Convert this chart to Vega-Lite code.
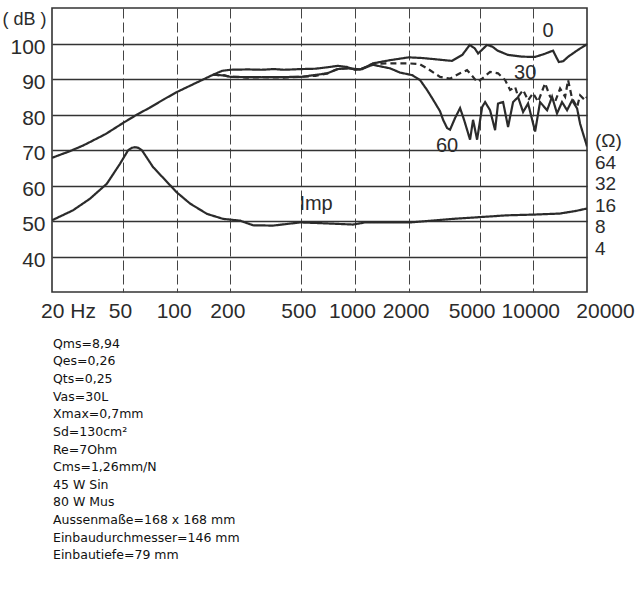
{
  "$schema": "https://vega.github.io/schema/vega-lite/v6.json",
  "width": 535,
  "height": 284,
  "autosize": {"type": "none"},
  "padding": {"left": 52, "top": 8, "right": 53, "bottom": 305},
  "background": "white",
  "config": {
    "view": {"stroke": "#333333", "strokeWidth": 1.6},
    "text": {"font": "Liberation Sans", "color": "#2b2b2b"}
  },
  "datasets": {
    "curves": [
      {"curve": "0", "freq": 20, "db": 67.8}, {"curve": "0", "freq": 25, "db": 69.6}, {"curve": "0", "freq": 30, "db": 71.3},
      {"curve": "0", "freq": 40, "db": 74.5}, {"curve": "0", "freq": 50, "db": 77.6}, {"curve": "0", "freq": 60, "db": 80.0},
      {"curve": "0", "freq": 70, "db": 81.8}, {"curve": "0", "freq": 85, "db": 84.3}, {"curve": "0", "freq": 100, "db": 86.3},
      {"curve": "0", "freq": 120, "db": 88.2}, {"curve": "0", "freq": 140, "db": 89.8}, {"curve": "0", "freq": 160, "db": 91.2},
      {"curve": "0", "freq": 180, "db": 92.3}, {"curve": "0", "freq": 200, "db": 92.6}, {"curve": "0", "freq": 250, "db": 92.7},
      {"curve": "0", "freq": 300, "db": 92.6}, {"curve": "0", "freq": 350, "db": 92.8}, {"curve": "0", "freq": 400, "db": 92.6},
      {"curve": "0", "freq": 450, "db": 92.7}, {"curve": "0", "freq": 500, "db": 92.8}, {"curve": "0", "freq": 600, "db": 92.9},
      {"curve": "0", "freq": 700, "db": 93.3}, {"curve": "0", "freq": 800, "db": 93.7}, {"curve": "0", "freq": 900, "db": 93.4},
      {"curve": "0", "freq": 1000, "db": 92.6}, {"curve": "0", "freq": 1100, "db": 92.8}, {"curve": "0", "freq": 1260, "db": 94.4},
      {"curve": "0", "freq": 1570, "db": 95.3}, {"curve": "0", "freq": 2000, "db": 96.1}, {"curve": "0", "freq": 2400, "db": 95.9},
      {"curve": "0", "freq": 2900, "db": 95.5}, {"curve": "0", "freq": 3500, "db": 95.1}, {"curve": "0", "freq": 4000, "db": 96.8},
      {"curve": "0", "freq": 4400, "db": 99.6}, {"curve": "0", "freq": 4700, "db": 98.6}, {"curve": "0", "freq": 4900, "db": 97.2},
      {"curve": "0", "freq": 5150, "db": 98.2}, {"curve": "0", "freq": 5500, "db": 99.6}, {"curve": "0", "freq": 5900, "db": 99.1},
      {"curve": "0", "freq": 6300, "db": 98.0}, {"curve": "0", "freq": 7200, "db": 96.8}, {"curve": "0", "freq": 8600, "db": 96.3},
      {"curve": "0", "freq": 10200, "db": 96.2}, {"curve": "0", "freq": 11600, "db": 97.1}, {"curve": "0", "freq": 12900, "db": 98.0},
      {"curve": "0", "freq": 13500, "db": 96.0}, {"curve": "0", "freq": 13900, "db": 94.8}, {"curve": "0", "freq": 14700, "db": 95.0},
      {"curve": "0", "freq": 15700, "db": 96.3}, {"curve": "0", "freq": 17800, "db": 98.2}, {"curve": "0", "freq": 20000, "db": 99.8},

      {"curve": "30", "freq": 160, "db": 91.2}, {"curve": "30", "freq": 185, "db": 91.0}, {"curve": "30", "freq": 200, "db": 90.6},
      {"curve": "30", "freq": 250, "db": 90.4}, {"curve": "30", "freq": 300, "db": 90.5}, {"curve": "30", "freq": 400, "db": 90.4},
      {"curve": "30", "freq": 500, "db": 90.6}, {"curve": "30", "freq": 600, "db": 90.9}, {"curve": "30", "freq": 700, "db": 91.6},
      {"curve": "30", "freq": 800, "db": 92.8}, {"curve": "30", "freq": 900, "db": 93.0}, {"curve": "30", "freq": 1070, "db": 92.7},
      {"curve": "30", "freq": 1260, "db": 94.3}, {"curve": "30", "freq": 1570, "db": 94.4}, {"curve": "30", "freq": 2000, "db": 94.4},
      {"curve": "30", "freq": 2300, "db": 94.2}, {"curve": "30", "freq": 2540, "db": 93.0}, {"curve": "30", "freq": 3000, "db": 90.6},
      {"curve": "30", "freq": 3410, "db": 90.1}, {"curve": "30", "freq": 3880, "db": 91.6}, {"curve": "30", "freq": 4250, "db": 92.5},
      {"curve": "30", "freq": 4420, "db": 91.6}, {"curve": "30", "freq": 4840, "db": 89.2}, {"curve": "30", "freq": 5165, "db": 90.1},
      {"curve": "30", "freq": 5720, "db": 92.0}, {"curve": "30", "freq": 6340, "db": 91.6}, {"curve": "30", "freq": 6950, "db": 89.7},
      {"curve": "30", "freq": 7410, "db": 86.9}, {"curve": "30", "freq": 7900, "db": 87.8}, {"curve": "30", "freq": 8220, "db": 85.0},
      {"curve": "30", "freq": 8760, "db": 86.9}, {"curve": "30", "freq": 9350, "db": 84.0}, {"curve": "30", "freq": 9970, "db": 86.0},
      {"curve": "30", "freq": 10640, "db": 83.6}, {"curve": "30", "freq": 11640, "db": 88.8}, {"curve": "30", "freq": 12420, "db": 85.0},
      {"curve": "30", "freq": 13250, "db": 83.6}, {"curve": "30", "freq": 14130, "db": 87.3}, {"curve": "30", "freq": 15080, "db": 85.0},
      {"curve": "30", "freq": 15670, "db": 89.7}, {"curve": "30", "freq": 16500, "db": 84.5}, {"curve": "30", "freq": 17600, "db": 82.1},
      {"curve": "30", "freq": 18300, "db": 85.4}, {"curve": "30", "freq": 19510, "db": 84.0}, {"curve": "30", "freq": 20000, "db": 85.0},

      {"curve": "60", "freq": 160, "db": 91.2}, {"curve": "60", "freq": 185, "db": 91.0}, {"curve": "60", "freq": 200, "db": 90.6},
      {"curve": "60", "freq": 300, "db": 90.5}, {"curve": "60", "freq": 500, "db": 90.6}, {"curve": "60", "freq": 700, "db": 91.6},
      {"curve": "60", "freq": 800, "db": 92.8}, {"curve": "60", "freq": 900, "db": 93.0}, {"curve": "60", "freq": 1070, "db": 92.7},
      {"curve": "60", "freq": 1260, "db": 94.0}, {"curve": "60", "freq": 1574, "db": 93.0}, {"curve": "60", "freq": 1790, "db": 91.8},
      {"curve": "60", "freq": 2090, "db": 91.1}, {"curve": "60", "freq": 2318, "db": 89.7}, {"curve": "60", "freq": 2536, "db": 86.9},
      {"curve": "60", "freq": 2740, "db": 84.2}, {"curve": "60", "freq": 3000, "db": 80.9}, {"curve": "60", "freq": 3120, "db": 78.5},
      {"curve": "60", "freq": 3284, "db": 76.2}, {"curve": "60", "freq": 3412, "db": 75.7}, {"curve": "60", "freq": 3640, "db": 79.0},
      {"curve": "60", "freq": 3884, "db": 81.8}, {"curve": "60", "freq": 4090, "db": 78.5}, {"curve": "60", "freq": 4252, "db": 75.7},
      {"curve": "60", "freq": 4418, "db": 72.9}, {"curve": "60", "freq": 4594, "db": 78.5}, {"curve": "60", "freq": 4838, "db": 72.9},
      {"curve": "60", "freq": 5165, "db": 82.1}, {"curve": "60", "freq": 5366, "db": 83.5}, {"curve": "60", "freq": 5722, "db": 81.2},
      {"curve": "60", "freq": 6104, "db": 75.6}, {"curve": "60", "freq": 6340, "db": 83.1}, {"curve": "60", "freq": 6768, "db": 83.5},
      {"curve": "60", "freq": 7218, "db": 76.5}, {"curve": "60", "freq": 7702, "db": 83.5}, {"curve": "60", "freq": 8216, "db": 84.9},
      {"curve": "60", "freq": 8762, "db": 80.7}, {"curve": "60", "freq": 9348, "db": 83.1}, {"curve": "60", "freq": 10234, "db": 75.2},
      {"curve": "60", "freq": 10910, "db": 83.5}, {"curve": "60", "freq": 11950, "db": 81.2}, {"curve": "60", "freq": 12740, "db": 85.0},
      {"curve": "60", "freq": 13580, "db": 80.3}, {"curve": "60", "freq": 14490, "db": 83.5}, {"curve": "60", "freq": 15460, "db": 81.2},
      {"curve": "60", "freq": 16500, "db": 84.0}, {"curve": "60", "freq": 17600, "db": 81.7}, {"curve": "60", "freq": 18300, "db": 77.4},
      {"curve": "60", "freq": 19020, "db": 74.6}, {"curve": "60", "freq": 19760, "db": 71.9}, {"curve": "60", "freq": 20000, "db": 71.0},

      {"curve": "Imp", "freq": 20, "db": 50.2}, {"curve": "Imp", "freq": 26.2, "db": 53.0}, {"curve": "Imp", "freq": 32.7, "db": 56.3},
      {"curve": "Imp", "freq": 40.6, "db": 60.5}, {"curve": "Imp", "freq": 48.1, "db": 66.1}, {"curve": "Imp", "freq": 53.4, "db": 69.9},
      {"curve": "Imp", "freq": 56, "db": 70.6}, {"curve": "Imp", "freq": 58.4, "db": 70.8}, {"curve": "Imp", "freq": 61, "db": 70.6},
      {"curve": "Imp", "freq": 63.9, "db": 69.9}, {"curve": "Imp", "freq": 73.7, "db": 65.2}, {"curve": "Imp", "freq": 88.3, "db": 61.0},
      {"curve": "Imp", "freq": 100, "db": 58.1}, {"curve": "Imp", "freq": 119, "db": 54.9}, {"curve": "Imp", "freq": 148, "db": 52.0},
      {"curve": "Imp", "freq": 182, "db": 50.6}, {"curve": "Imp", "freq": 227, "db": 50.1}, {"curve": "Imp", "freq": 268, "db": 48.8},
      {"curve": "Imp", "freq": 347, "db": 48.7}, {"curve": "Imp", "freq": 492, "db": 49.6}, {"curve": "Imp", "freq": 637, "db": 49.4},
      {"curve": "Imp", "freq": 975, "db": 49.0}, {"curve": "Imp", "freq": 1140, "db": 49.6}, {"curve": "Imp", "freq": 2036, "db": 49.6},
      {"curve": "Imp", "freq": 3548, "db": 50.6}, {"curve": "Imp", "freq": 5028, "db": 51.1}, {"curve": "Imp", "freq": 7128, "db": 51.6},
      {"curve": "Imp", "freq": 9974, "db": 51.8}, {"curve": "Imp", "freq": 14132, "db": 52.1}, {"curve": "Imp", "freq": 17580, "db": 52.9},
      {"curve": "Imp", "freq": 19512, "db": 53.4}, {"curve": "Imp", "freq": 20000, "db": 53.5}
    ],
    "curveLabels": [
      {"freq": 12100, "db": 103.4, "label": "0"},
      {"freq": 9000, "db": 91.8, "label": "30"},
      {"freq": 3284, "db": 71.2, "label": "60"},
      {"freq": 605, "db": 54.8, "label": "Imp"}
    ],
    "ohm": [
      {"db": 72.5, "label": "(Ω)"},
      {"db": 66.2, "label": "64"},
      {"db": 60.3, "label": "32"},
      {"db": 54.1, "label": "16"},
      {"db": 48.2, "label": "8"},
      {"db": 42.2, "label": "4"}
    ],
    "specs": [
      {"t": "Qms=8,94\nQes=0,26\nQts=0,25\nVas=30L\nXmax=0,7mm\nSd=130cm²\nRe=7Ohm\nCms=1,26mm/N\n45 W Sin\n80 W Mus\nAussenmaße=168 x 168 mm\nEinbaudurchmesser=146 mm\nEinbautiefe=79 mm"}
    ]
  },
  "layer": [
    {
      "data": {"name": "curves"},
      "mark": {"type": "line", "strokeWidth": 2.2, "color": "#2b2b2b", "clip": true},
      "encoding": {
        "x": {
          "field": "freq", "type": "quantitative",
          "scale": {"type": "log", "domain": [20, 20000], "nice": false},
          "axis": {
            "title": null,
            "values": [20, 50, 100, 200, 500, 1000, 2000, 5000, 10000, 20000],
            "format": "d",
            "labelExpr": "datum.value == 20 ? '20 Hz' : datum.label",
            "labelFont": "Liberation Sans",
            "labelFontSize": 21,
            "labelColor": "#2b2b2b",
            "labelPadding": 8,
            "labelFlush": false,
            "labelOverlap": false,
            "labelBound": false,
            "labelOffset": {"condition": [{"test": "datum.value == 20", "value": 16}, {"test": "datum.value == 20000", "value": 18}, {"test": "datum.value == 5000", "value": -8}], "value": -3},
            "ticks": false,
            "domain": false,
            "grid": true,
            "gridColor": "#444444",
            "gridWidth": 1,
            "gridDash": [10, 4],
            "gridOpacity": {"condition": {"test": "datum.value == 20 || datum.value == 20000", "value": 0}, "value": 1}
          }
        },
        "y": {
          "field": "db", "type": "quantitative",
          "scale": {"domain": [30, 110], "nice": false},
          "axis": {
            "title": "( dB )",
            "titleAngle": 0,
            "titleAlign": "right",
            "titleBaseline": "middle",
            "titleX": -6,
            "titleY": 11,
            "titleFont": "Liberation Sans",
            "titleFontSize": 18,
            "titleFontWeight": "normal",
            "titleColor": "#2b2b2b",
            "values": [40, 50, 60, 70, 80, 90, 100],
            "labelFont": "Liberation Sans",
            "labelFontSize": 21,
            "labelColor": "#2b2b2b",
            "labelPadding": 7,
            "labelOffset": 3.5,
            "ticks": false,
            "domain": false,
            "grid": true,
            "gridColor": "#333333",
            "gridWidth": 1.5
          }
        },
        "detail": {"field": "curve"},
        "strokeDash": {
          "field": "curve", "type": "nominal",
          "scale": {"domain": ["0", "30", "60", "Imp"], "range": [[1, 0], [6, 4], [1, 0], [1, 0]]},
          "legend": null
        }
      }
    },
    {
      "data": {"name": "curveLabels"},
      "mark": {"type": "text", "fontSize": 20, "align": "center", "baseline": "middle"},
      "encoding": {
        "x": {"field": "freq", "type": "quantitative"},
        "y": {"field": "db", "type": "quantitative"},
        "text": {"field": "label"}
      }
    },
    {
      "data": {"name": "ohm"},
      "mark": {"type": "text", "fontSize": 19, "align": "left", "baseline": "middle", "dx": 8},
      "encoding": {
        "x": {"datum": 20000},
        "y": {"field": "db", "type": "quantitative"},
        "text": {"field": "label"}
      }
    },
    {
      "data": {"name": "specs"},
      "mark": {"type": "text", "font": "DejaVu Sans", "fontSize": 12.5, "align": "left", "baseline": "top", "lineBreak": "\n", "lineHeight": 17.65, "dx": 1, "color": "#111111"},
      "encoding": {
        "x": {"datum": 20},
        "y": {"datum": 17.15},
        "text": {"field": "t"}
      }
    }
  ]
}
